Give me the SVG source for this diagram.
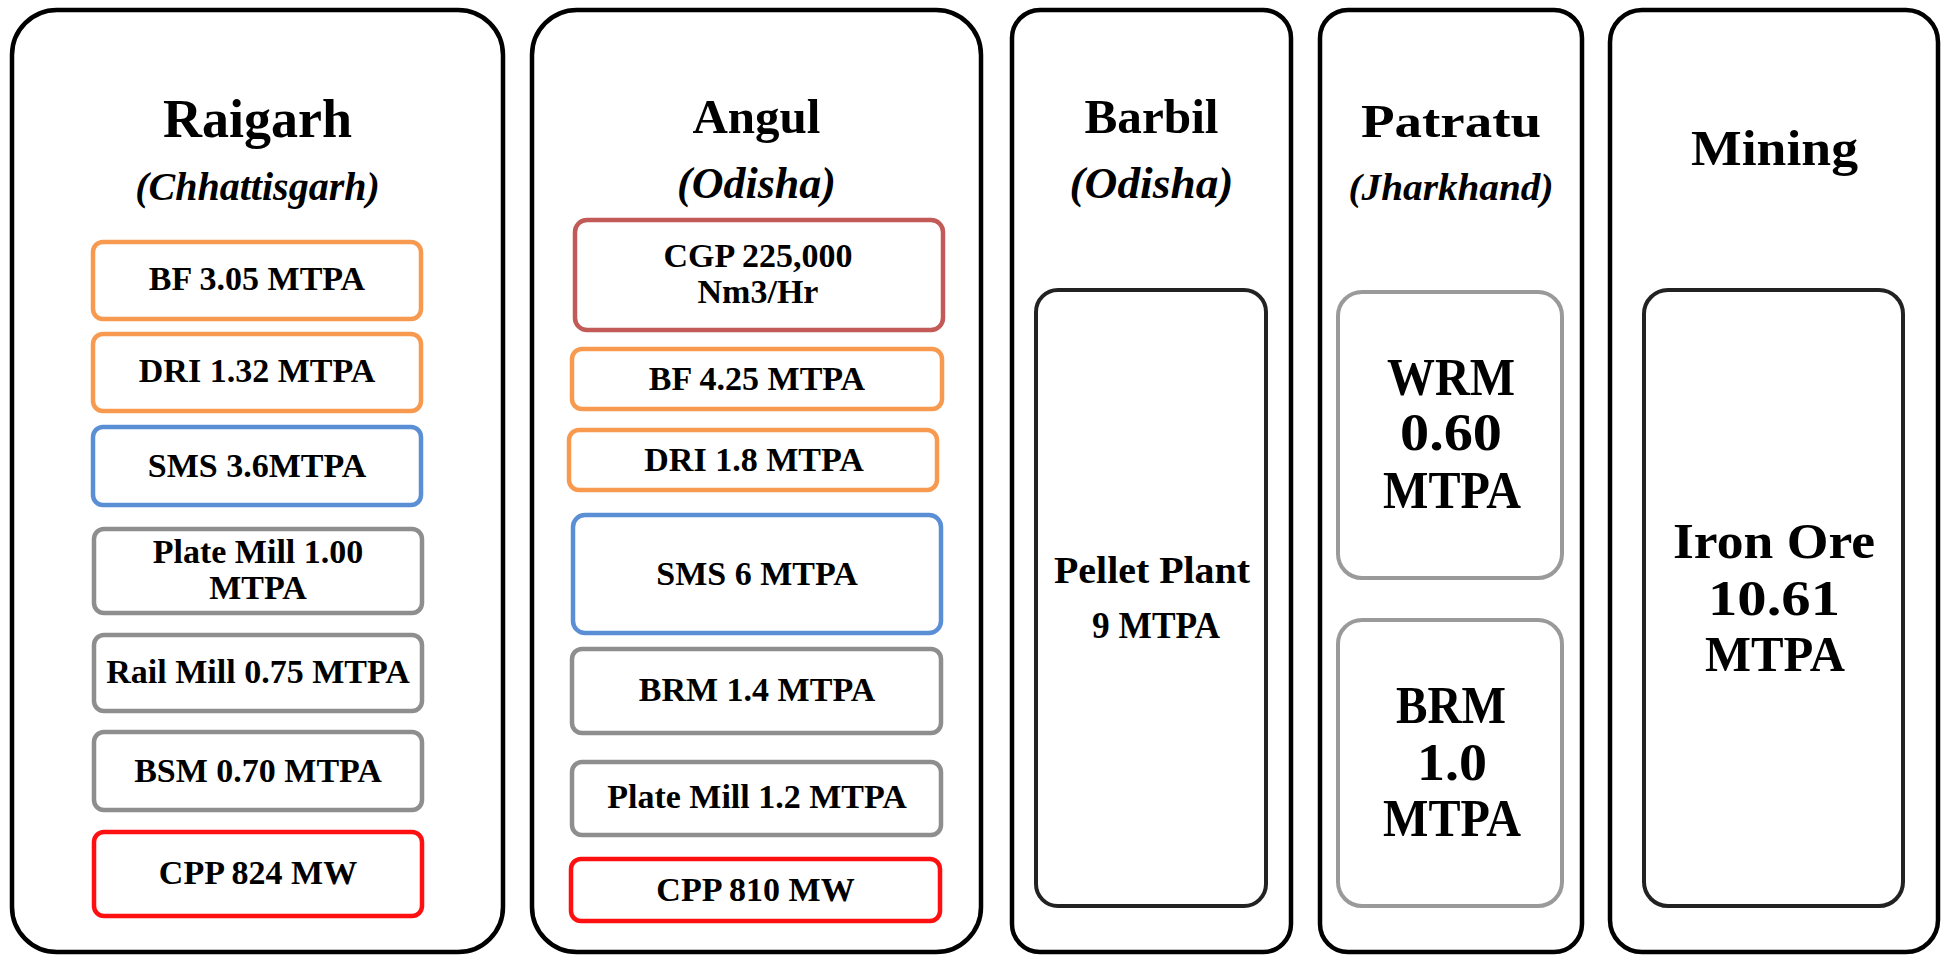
<svg xmlns="http://www.w3.org/2000/svg" width="1946" height="958" viewBox="0 0 1946 958">
<style>
text{font-family:"Liberation Serif","DejaVu Serif",serif;font-weight:bold;fill:#000;text-anchor:middle}
.it{font-style:italic}
.panel{fill:#fff;stroke:#000;stroke-width:4.5}
.box{fill:#fff;stroke-width:4.5}
.or{stroke:#F79A50}
.bl{stroke:#5B8FD5}
.gr{stroke:#8E8E8E}
.rd{stroke:#FF1010}
.cg{stroke:#C25A57}
.dk{fill:#fff;stroke:#222;stroke-width:4}
.lg{fill:#fff;stroke:#9A9A9A;stroke-width:4}
.t{font-size:34px}
</style>
<rect width="1946" height="958" fill="#fff"/>
<g id="connectors"/>

<g id="raigarh">
<rect class="panel" x="12" y="10" width="491" height="942" rx="45"/>
<text x="257.5" y="137" font-size="54">Raigarh</text>
<text class="it" x="257.5" y="200" font-size="40">(Chhattisgarh)</text>
</g>
<g id="raigarh-bf"><rect class="box or" x="93" y="242" width="328" height="77" rx="10"/><text class="t" x="257" y="290">BF 3.05 MTPA</text></g>
<g id="raigarh-dri"><rect class="box or" x="93" y="334" width="328" height="77" rx="10"/><text class="t" x="257" y="382">DRI 1.32 MTPA</text></g>
<g id="raigarh-sms"><rect class="box bl" x="93" y="427" width="328" height="78" rx="10"/><text class="t" x="257" y="477">SMS 3.6MTPA</text></g>
<g id="raigarh-plate"><rect class="box gr" x="94" y="529" width="328" height="84" rx="10"/><text class="t" x="258" y="563">Plate Mill 1.00</text><text class="t" x="258" y="599">MTPA</text></g>
<g id="raigarh-rail"><rect class="box gr" x="94" y="635" width="328" height="76" rx="10"/><text class="t" x="258" y="683">Rail Mill 0.75 MTPA</text></g>
<g id="raigarh-bsm"><rect class="box gr" x="94" y="732" width="328" height="78" rx="10"/><text class="t" x="258" y="782">BSM 0.70 MTPA</text></g>
<g id="raigarh-cpp"><rect class="box rd" x="94" y="832" width="328" height="84" rx="10"/><text class="t" x="258" y="884">CPP 824 MW</text></g>

<g id="angul">
<rect class="panel" x="532" y="10" width="449" height="942" rx="45"/>
<text x="756.5" y="133" font-size="49">Angul</text>
<text class="it" x="756.5" y="198" font-size="44">(Odisha)</text>
</g>
<g id="angul-cgp"><rect class="box cg" x="575" y="220" width="368" height="110" rx="12"/><text class="t" x="758" y="267">CGP 225,000</text><text class="t" x="758" y="303">Nm3/Hr</text></g>
<g id="angul-bf"><rect class="box or" x="572" y="349" width="370" height="60" rx="10"/><text class="t" x="757" y="390">BF 4.25 MTPA</text></g>
<g id="angul-dri"><rect class="box or" x="569" y="430" width="368" height="60" rx="10"/><text class="t" x="754" y="471">DRI 1.8 MTPA</text></g>
<g id="angul-sms"><rect class="box bl" x="573" y="515" width="368" height="118" rx="12"/><text class="t" x="757" y="585">SMS 6 MTPA</text></g>
<g id="angul-brm"><rect class="box gr" x="572" y="649" width="369" height="84" rx="10"/><text class="t" x="757" y="701">BRM 1.4 MTPA</text></g>
<g id="angul-plate"><rect class="box gr" x="572" y="762" width="369" height="73" rx="10"/><text class="t" x="757" y="808">Plate Mill 1.2 MTPA</text></g>
<g id="angul-cpp"><rect class="box rd" x="571" y="859" width="369" height="62" rx="10"/><text class="t" x="755.5" y="901">CPP 810 MW</text></g>

<g id="barbil">
<rect class="panel" x="1012" y="10" width="279" height="942" rx="28"/>
<text x="1151.5" y="133" font-size="48" textLength="134" lengthAdjust="spacingAndGlyphs">Barbil</text>
<text class="it" x="1151.5" y="198" font-size="44" textLength="164" lengthAdjust="spacingAndGlyphs">(Odisha)</text>
</g>
<g id="barbil-pellet"><rect class="dk" x="1036" y="290" width="230" height="616" rx="22"/>
<text x="1152" y="583" font-size="38" textLength="196" lengthAdjust="spacingAndGlyphs">Pellet Plant</text>
<text x="1156" y="638" font-size="38" textLength="128" lengthAdjust="spacingAndGlyphs">9 MTPA</text></g>

<g id="patratu">
<rect class="panel" x="1320" y="10" width="262" height="942" rx="28"/>
<text x="1451" y="137" font-size="46" textLength="180" lengthAdjust="spacingAndGlyphs">Patratu</text>
<text class="it" x="1451" y="200" font-size="38" textLength="205" lengthAdjust="spacingAndGlyphs">(Jharkhand)</text>
</g>
<g id="patratu-wrm"><rect class="lg" x="1338" y="292" width="224" height="286" rx="24"/>
<text x="1451" y="395" font-size="52" textLength="128" lengthAdjust="spacingAndGlyphs">WRM</text>
<text x="1451" y="450" font-size="52" textLength="102" lengthAdjust="spacingAndGlyphs">0.60</text>
<text x="1452" y="508" font-size="52" textLength="138" lengthAdjust="spacingAndGlyphs">MTPA</text></g>
<g id="patratu-brm"><rect class="lg" x="1338" y="620" width="224" height="286" rx="24"/>
<text x="1451" y="723" font-size="52" textLength="110" lengthAdjust="spacingAndGlyphs">BRM</text>
<text x="1452" y="780" font-size="52" textLength="70" lengthAdjust="spacingAndGlyphs">1.0</text>
<text x="1452" y="836" font-size="52" textLength="138" lengthAdjust="spacingAndGlyphs">MTPA</text></g>

<g id="mining">
<rect class="panel" x="1610" y="10" width="328" height="942" rx="32"/>
<text x="1774.5" y="165" font-size="50" textLength="167" lengthAdjust="spacingAndGlyphs">Mining</text>
</g>
<g id="mining-ironore"><rect class="dk" x="1644" y="290" width="259" height="616" rx="24"/>
<text x="1774" y="558" font-size="50" textLength="202" lengthAdjust="spacingAndGlyphs">Iron Ore</text>
<text x="1774" y="615" font-size="50" textLength="132" lengthAdjust="spacingAndGlyphs">10.61</text>
<text x="1775" y="671" font-size="50" textLength="140" lengthAdjust="spacingAndGlyphs">MTPA</text></g>
</svg>
